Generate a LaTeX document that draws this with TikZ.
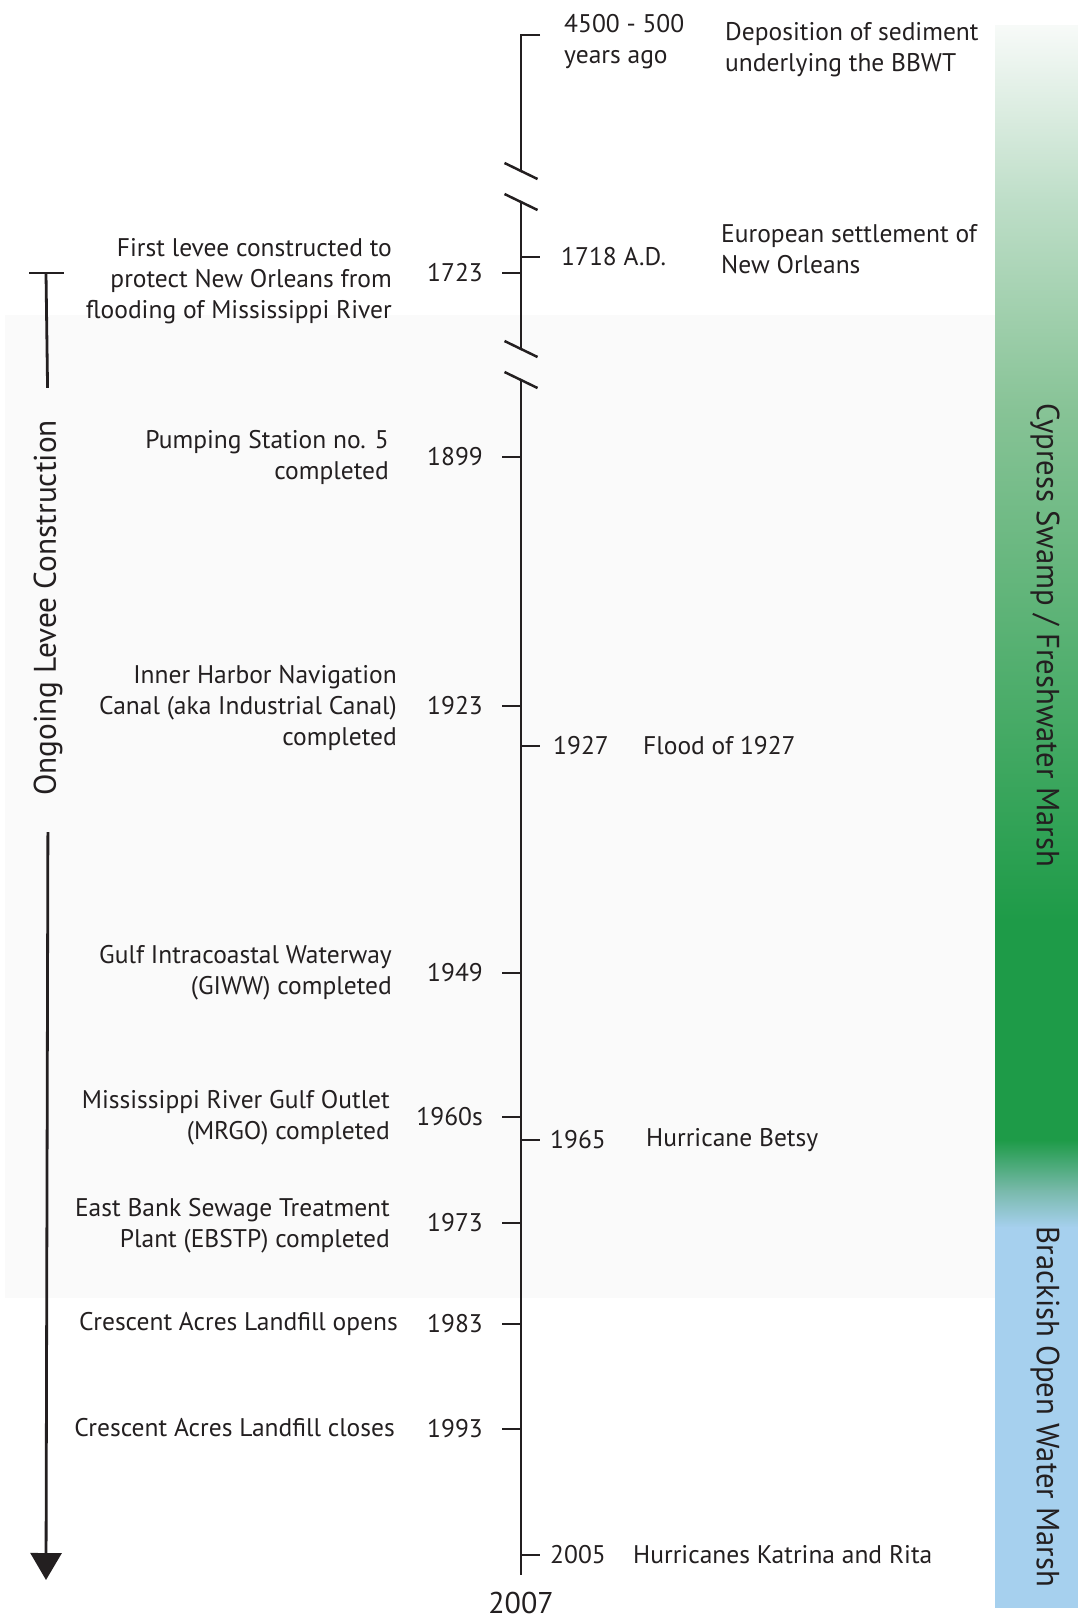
\documentclass[tikz,border=0pt]{standalone}
\usepackage{fontspec}
\setmainfont{PT Sans}
\usetikzlibrary{arrows.meta,positioning,calc}
\definecolor{Ink}{HTML}{231F20}
\definecolor{Haze}{HTML}{FAFAFA}
\definecolor{SwampTop}{HTML}{F7FAF8}
\definecolor{SwampLight}{HTML}{BEDEC8}
\definecolor{SwampMid}{HTML}{87C396}
\definecolor{SwampDark}{HTML}{1E9B48}
\definecolor{MarshMix}{HTML}{78B9AA}
\definecolor{MarshBlue}{HTML}{A6D0EE}
\tikzset{
  tl/.style={draw=Ink,line width=2.8pt},
  yearlbl/.style={inner sep=0pt,font=\fontsize{25.5}{31}\selectfont,text=Ink},
  eventlbl/.style={inner sep=0pt,font=\fontsize{25.5}{31}\selectfont,text=Ink},
  zonelbl/.style={inner sep=0pt,rotate=-90,font=\fontsize{32}{36}\selectfont,text=Ink},
}
\newcommand{\LeftEvent}[6]{%
  \coordinate (#1) at (521,#2);%
  \draw[tl] (#1) -- ++(-19,0);%
  \node[yearlbl,anchor=east] (#1-year) at (483,#2) {#3};%
  \node[eventlbl,anchor=east,align=right] (#1-text) at (#5,#4) {#6};%
}
\newcommand{\RightEvent}[6]{%
  \coordinate (#1) at (521,#2);%
  \draw[tl] (#1) -- ++(19,0);%
  \node[yearlbl,anchor=west] (#1-year) at (#4,#2) {#3};%
  \node[eventlbl,anchor=west,align=left] (#1-text) at (#5,#2) {#6};%
}

\begin{document}
\begin{tikzpicture}[x=1pt,y=-1pt]
\useasboundingbox (0,0) rectangle (1078,1619);
\fill[Haze] (5,315) rectangle (995,1298);
\shade[top color=SwampTop,bottom color=SwampLight] (995,26) rectangle (1078,200.5);
\shade[top color=SwampLight,bottom color=SwampMid] (995,200) rectangle (1078,410.5);
\shade[top color=SwampMid,bottom color=SwampDark] (995,410) rectangle (1078,920.5);
\fill[SwampDark] (995,920) rectangle (1078,1140.5);
\shade[top color=SwampDark,bottom color=MarshMix] (995,1140) rectangle (1078,1190.5);
\shade[top color=MarshMix,bottom color=MarshBlue] (995,1190) rectangle (1078,1227.5);
\fill[MarshBlue] (995,1227) rectangle (1078,1608);
\node[zonelbl] (swamp) at (1045,635) {\scalebox{0.96}[1]{Cypress Swamp / Freshwater Marsh}};
\node[zonelbl] (brackish) at (1045,1407) {\scalebox{0.96}[1]{Brackish Open Water Marsh}};
\coordinate (ax-top) at (521,35);
\coordinate (ax-end) at (521,1575);
\draw[tl] (540,35) -- (ax-top) -- (521,171);
\draw[tl] (521,202) -- (521,349);
\draw[tl] (521,380) -- (ax-end);
\foreach \y in {171,202,349,380} {
  \draw[tl,line width=2.5pt] (504.5,\y-8) -- (537.5,\y+8);
}
\node[eventlbl,anchor=west,align=left] (deep-year) at (564,42) {4500 - 500\\years ago};
\node[eventlbl,anchor=west,align=left] (deep-text) at (725,50) {Deposition of sediment\\underlying the BBWT};
\RightEvent{e1718}{257}{1718 A.D.}{561}{721}{}
\node[eventlbl,anchor=west,align=left] (e1718-note) at (721,249) {European settlement of\\New Orleans};
\RightEvent{e1927}{746}{1927}{553}{643}{Flood of 1927}
\RightEvent{e1965}{1140}{1965}{550}{646}{Hurricane Betsy}
\RightEvent{e2005}{1555}{2005}{550}{633}{Hurricanes Katrina and Rita}
\LeftEvent{e1723}{273}{1723}{281}{392}{First levee constructed to\\protect New Orleans from\\flooding of Mississippi River}
\LeftEvent{e1899}{457}{1899}{457}{389}{Pumping Station no. 5\\completed}
\LeftEvent{e1923}{706}{1923}{708}{397}{Inner Harbor Navigation\\Canal (aka Industrial Canal)\\completed}
\LeftEvent{e1949}{973}{1949}{973}{392}{Gulf Intracoastal Waterway\\(GIWW) completed}
\LeftEvent{e1960s}{1117}{1960s}{1118}{390}{Mississippi River Gulf Outlet\\(MRGO) completed}
\LeftEvent{e1973}{1223}{1973}{1226}{390}{East Bank Sewage Treatment\\Plant (EBSTP) completed}
\LeftEvent{e1983}{1324}{1983}{1324}{398}{Crescent Acres Landfill opens}
\LeftEvent{e1993}{1429}{1993}{1428}{395}{Crescent Acres Landfill closes}
\node[yearlbl,font=\fontsize{30}{36}\selectfont,below=17pt of ax-end] (now) {2007};
\coordinate (lv-top) at (46,273);
\coordinate (lv-end) at (46,1580);
\draw[tl] (29,273) -- (64,273);
\node[eventlbl,rotate=90,font=\fontsize{31.3}{36}\selectfont] (levee) at (48,608) {Ongoing Levee Construction};
\draw[tl,shorten >=32pt] (lv-top) -- (levee.east);
\draw[tl,shorten <=36pt,-{Triangle[width=31pt,length=27pt]}] (levee.west) -- (lv-end);
\end{tikzpicture}
\end{document}
